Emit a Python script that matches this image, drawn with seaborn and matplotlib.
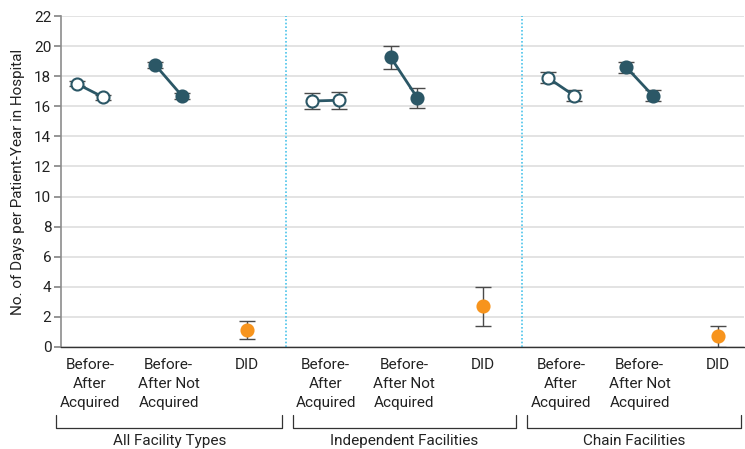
import seaborn as sns
import numpy as np
import pandas as pd
from matplotlib import pyplot as plt
from matplotlib import transforms

dark = '#2b5766'
orange = '#f7941d'
err_color = '#4a4a4a'

sns.set_theme(style="white")
plt.rcParams['font.family'] = ['Liberation Sans Narrow', 'Roboto', 'DejaVu Sans']

groups = ["All Facility Types", "Independent Facilities", "Chain Facilities"]
comparisons = ["Before-\nAfter\nAcquired", "Before-\nAfter Not\nAcquired", "DID"]

# acquired facilities, before / after acquisition
acq_before = [17.5, 16.35, 17.9]
acq_before_lo = [17.35, 15.85, 17.55]
acq_before_hi = [17.65, 16.9, 18.25]
acq_after = [16.6, 16.4, 16.7]
acq_after_lo = [16.45, 15.8, 16.35]
acq_after_hi = [16.75, 16.95, 17.05]

# not acquired facilities
notacq_before = [18.75, 19.25, 18.6]
notacq_before_lo = [18.55, 18.5, 18.2]
notacq_before_hi = [18.95, 20.0, 18.95]
notacq_after = [16.7, 16.55, 16.7]
notacq_after_lo = [16.5, 15.9, 16.35]
notacq_after_hi = [16.9, 17.2, 17.05]

# difference in differences
did = [1.15, 2.7, 0.73]
did_lo = [0.55, 1.4, 0.0]
did_hi = [1.75, 4.0, 1.4]

rows = []
for g in range(len(groups)):
    base = g * 3
    for period, off, v, lo, hi in [('before', -0.17, acq_before, acq_before_lo, acq_before_hi),
                                   ('after', 0.17, acq_after, acq_after_lo, acq_after_hi)]:
        rows.append(dict(group=groups[g], kind='acq', pair=f'acq{g}', x=base + off,
                         value=v[g], lo=lo[g], hi=hi[g]))
    for period, off, v, lo, hi in [('before', -0.17, notacq_before, notacq_before_lo, notacq_before_hi),
                                   ('after', 0.17, notacq_after, notacq_after_lo, notacq_after_hi)]:
        rows.append(dict(group=groups[g], kind='notacq', pair=f'not{g}', x=base + 1 + off,
                         value=v[g], lo=lo[g], hi=hi[g]))
    rows.append(dict(group=groups[g], kind='did', pair=f'did{g}', x=base + 2,
                     value=did[g], lo=did_lo[g], hi=did_hi[g]))
df = pd.DataFrame(rows)

fig = plt.figure(figsize=(7.45, 4.49), dpi=100)
ax = fig.add_axes([61 / 745, 1 - 347 / 449, 683 / 745, 331 / 449])

ax.set_ylim(0, 22)
ax.set_xlim(-0.37, 8.33)
ax.set_yticks(np.arange(0, 23, 2))
ax.yaxis.grid(True, color='#e0e0e0', lw=1.3, zorder=0)
ax.set_axisbelow(True)

for xv in [2.5, 5.5]:
    ax.axvline(xv, color='#4cc4ea', ls=(0, (1, 1.2)), lw=1.2, zorder=1)

# error bars
ax.errorbar(df.x, df.value, yerr=[df.value - df.lo, df.hi - df.value], fmt='none',
            ecolor=err_color, elinewidth=1, capsize=6, capthick=1, zorder=2)

# connecting lines
sns.lineplot(data=df[df.kind != 'did'], x='x', y='value', units='pair', estimator=None,
             color=dark, lw=2, ax=ax, zorder=3)

kw = dict(s=75, linewidth=1.5, zorder=4, ax=ax, legend=False)
sns.scatterplot(data=df[df.kind == 'acq'], x='x', y='value', color='white', edgecolor=dark, **kw)
sns.scatterplot(data=df[df.kind == 'notacq'], x='x', y='value', color=dark, edgecolor=dark, **kw)
sns.scatterplot(data=df[df.kind == 'did'], x='x', y='value', color=orange, edgecolor=orange, **kw)

ax.set_xticks(range(9))
ax.set_xticklabels(comparisons * 3, fontsize=11, color='#222222', linespacing=1.45)
ax.tick_params(axis='x', length=5, color='#333333', direction='out', pad=3)
ax.tick_params(axis='y', length=5, color='#888888', direction='out', labelsize=11,
               labelcolor='#222222', pad=2, left=True)
ax.set_xlabel('')
ax.set_ylabel('No. of Days per Patient-Year in Hospital', fontsize=11, color='#222222', labelpad=6)

for side in ['top', 'right']:
    ax.spines[side].set_visible(False)
ax.spines['left'].set_color('#8c8c8c')
ax.spines['left'].set_linewidth(1.2)
ax.spines['bottom'].set_color('#333333')
ax.spines['bottom'].set_linewidth(1)

# group brackets under the tick labels
trans = transforms.blended_transform_factory(ax.transData, ax.transAxes)
y_bar = -(428 - 347) / 331
y_top = -(415 - 347) / 331
spans = [(-0.43, 2.45), (2.58, 5.43), (5.56, 8.29)]
for (x0, x1), name in zip(spans, groups):
    ax.plot([x0, x0, x1, x1], [y_top, y_bar, y_bar, y_top], color='#333333', lw=0.9,
            transform=trans, clip_on=False)
    ax.text((x0 + x1) / 2, -(441 - 347) / 331, name, transform=trans, ha='center',
            va='center', fontsize=11, color='#222222')

fig.savefig('out.png', dpi=100)
